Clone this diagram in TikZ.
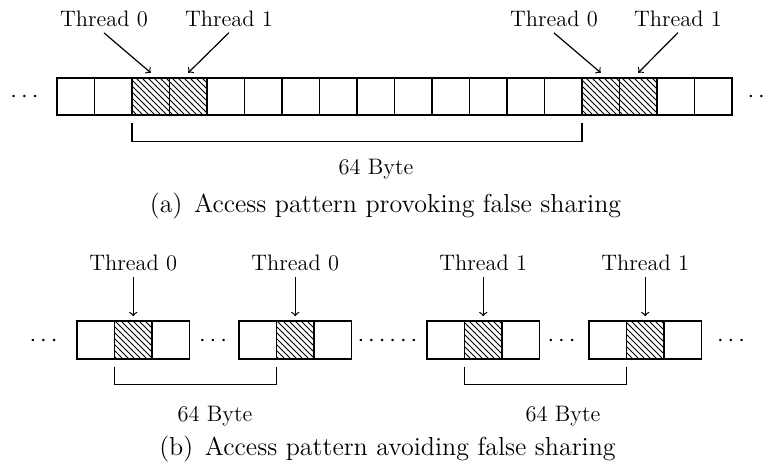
\documentclass[tikz,border=0pt]{standalone}
\usetikzlibrary{patterns}
\begin{document}
\begin{tikzpicture}[x=0.5pt,y=-0.5pt,
  cell/.style={draw,line width=0.95pt,minimum width=18.75pt,minimum height=18.75pt,inner sep=0pt,outer sep=0pt},
  hcell/.style={cell,pattern=north west lines},
  lbl/.style={font=\fontsize{11.2}{13}\selectfont,inner sep=2.5pt,anchor=base},
  captext/.style={font=\fontsize{13}{15}\selectfont,inner sep=0pt,anchor=base},
  dotstext/.style={font=\fontsize{12.6}{15}\selectfont,inner sep=0pt,anchor=base},
  arr/.style={->,line width=0.6pt},
  brk/.style={line width=0.6pt}]
\useasboundingbox (0,0) rectangle (766,470);

% ---- (a) one long row of cells, two pairs of neighbouring cells in use
\foreach \i/\s in {0/cell,1/cell,2/hcell,3/hcell,4/cell,5/cell,6/cell,7/cell,8/cell,
                   9/cell,10/cell,11/cell,12/cell,13/cell,14/hcell,15/hcell,16/cell,17/cell}
  \node[\s] (t\i) at ({75.75+37.5*\i},96.5) {};
\node[dotstext] (dl) at (24.5,103) {$\cdots$};
\node[dotstext] (dr) at (761.5,103) {$\cdots$};

\node[lbl] (a0) at (104,27) {Thread 0};
\node[lbl] (a1) at (229,27) {Thread 1};
\node[lbl] (a2) at (554,27) {Thread 0};
\node[lbl] (a3) at (678,27) {Thread 1};
\draw[arr] (a0.south) -- ([yshift=2.5pt]t2.north);
\draw[arr] (a1.south) -- ([yshift=2.5pt]t3.north);
\draw[arr] (a2.south) -- ([yshift=2.5pt]t14.north);
\draw[arr] (a3.south) -- ([yshift=2.5pt]t15.north);

\draw[brk] ([yshift=-4pt]t2.south west) -- ++(0,18) -| ([yshift=-4pt]t14.south west);
\node[lbl] (ba) at (376,175) {64 Byte};
\node[captext] (capa) at (385.5,213) {(a)\hspace{0.45em}Access pattern provoking false sharing};

% ---- (b) each thread's cell in a cache line of its own
\foreach \g/\x in {1/77,2/239,3/427,4/589}{
  \node[cell]  (b\g0) at (\x+18.75,340) {};
  \node[hcell] (b\g1) at (\x+56.25,340) {};
  \node[cell]  (b\g2) at (\x+93.75,340) {};
}
\node[dotstext] (e0) at (43.5,347) {$\cdots$};
\node[dotstext] (e1) at (213,347) {$\cdots$};
\node[dotstext] (e2) at (387.5,347) {$\cdots\cdots$};
\node[dotstext] (e3) at (561.5,347) {$\cdots$};
\node[dotstext] (e4) at (731,347) {$\cdots$};

\node[lbl] (c0) at (133.25,271) {Thread 0};
\node[lbl] (c1) at (295.25,271) {Thread 0};
\node[lbl] (c2) at (483.25,271) {Thread 1};
\node[lbl] (c3) at (645.25,271) {Thread 1};
\draw[arr] (c0.south) -- ([yshift=2.5pt]b11.north);
\draw[arr] (c1.south) -- ([yshift=2.5pt]b21.north);
\draw[arr] (c2.south) -- ([yshift=2.5pt]b31.north);
\draw[arr] (c3.south) -- ([yshift=2.5pt]b41.north);

\draw[brk] ([yshift=-4pt]b11.south west) -- ++(0,18) -| ([yshift=-4pt]b21.south west);
\draw[brk] ([yshift=-4pt]b31.south west) -- ++(0,18) -| ([yshift=-4pt]b41.south west);
\node[lbl] (bb0) at (215,422) {64 Byte};
\node[lbl] (bb1) at (563,422) {64 Byte};
\node[captext] (capb) at (387.5,455) {(b)\hspace{0.45em}Access pattern avoiding false sharing};
\end{tikzpicture}
\end{document}
